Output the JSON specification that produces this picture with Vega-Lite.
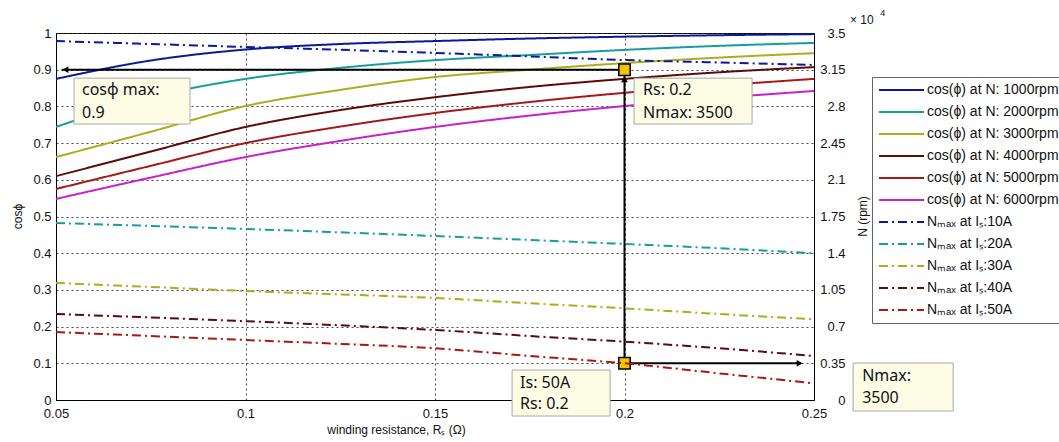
{
  "$schema": "https://vega.github.io/schema/vega-lite/v6.json",
  "width": 758,
  "height": 367,
  "autosize": {"type": "none"},
  "padding": {"left": 56, "top": 33, "right": 245, "bottom": 42},
  "config": {
    "view": {"stroke": "black", "strokeWidth": 1},
    "font": "Liberation Sans",
    "scale": {"continuousPadding": 0},
    "axis": {
      "labelFont": "Liberation Sans",
      "labelFontSize": 13,
      "labelColor": "#111",
      "labelFlush": false,
      "labelOverlap": false,
      "titleFont": "Liberation Sans",
      "titleFontSize": 12,
      "titleFontWeight": "normal",
      "titleColor": "#111",
      "domainColor": "black",
      "gridColor": "#333",
      "gridDash": [2, 3],
      "gridOpacity": 0.9,
      "ticks": false
    },
    "legend": {
      "labelFont": "Liberation Sans",
      "labelFontSize": 14,
      "labelColor": "#111"
    }
  },
  "datasets": {
    "cos": [
      {"R": 0.05, "cos": 0.875, "series": "cos(ϕ) at N: 1000rpm"},
      {"R": 0.075, "cos": 0.925, "series": "cos(ϕ) at N: 1000rpm"},
      {"R": 0.1, "cos": 0.955, "series": "cos(ϕ) at N: 1000rpm"},
      {"R": 0.125, "cos": 0.97, "series": "cos(ϕ) at N: 1000rpm"},
      {"R": 0.15, "cos": 0.978, "series": "cos(ϕ) at N: 1000rpm"},
      {"R": 0.175, "cos": 0.985, "series": "cos(ϕ) at N: 1000rpm"},
      {"R": 0.2, "cos": 0.99, "series": "cos(ϕ) at N: 1000rpm"},
      {"R": 0.225, "cos": 0.994, "series": "cos(ϕ) at N: 1000rpm"},
      {"R": 0.25, "cos": 0.997, "series": "cos(ϕ) at N: 1000rpm"},
      {"R": 0.05, "cos": 0.744, "series": "cos(ϕ) at N: 2000rpm"},
      {"R": 0.075, "cos": 0.825, "series": "cos(ϕ) at N: 2000rpm"},
      {"R": 0.1, "cos": 0.875, "series": "cos(ϕ) at N: 2000rpm"},
      {"R": 0.125, "cos": 0.905, "series": "cos(ϕ) at N: 2000rpm"},
      {"R": 0.15, "cos": 0.926, "series": "cos(ϕ) at N: 2000rpm"},
      {"R": 0.175, "cos": 0.94, "series": "cos(ϕ) at N: 2000rpm"},
      {"R": 0.2, "cos": 0.954, "series": "cos(ϕ) at N: 2000rpm"},
      {"R": 0.225, "cos": 0.965, "series": "cos(ϕ) at N: 2000rpm"},
      {"R": 0.25, "cos": 0.973, "series": "cos(ϕ) at N: 2000rpm"},
      {"R": 0.05, "cos": 0.662, "series": "cos(ϕ) at N: 3000rpm"},
      {"R": 0.075, "cos": 0.731, "series": "cos(ϕ) at N: 3000rpm"},
      {"R": 0.1, "cos": 0.801, "series": "cos(ϕ) at N: 3000rpm"},
      {"R": 0.125, "cos": 0.845, "series": "cos(ϕ) at N: 3000rpm"},
      {"R": 0.15, "cos": 0.88, "series": "cos(ϕ) at N: 3000rpm"},
      {"R": 0.175, "cos": 0.9, "series": "cos(ϕ) at N: 3000rpm"},
      {"R": 0.2, "cos": 0.918, "series": "cos(ϕ) at N: 3000rpm"},
      {"R": 0.225, "cos": 0.933, "series": "cos(ϕ) at N: 3000rpm"},
      {"R": 0.25, "cos": 0.945, "series": "cos(ϕ) at N: 3000rpm"},
      {"R": 0.05, "cos": 0.61, "series": "cos(ϕ) at N: 4000rpm"},
      {"R": 0.075, "cos": 0.677, "series": "cos(ϕ) at N: 4000rpm"},
      {"R": 0.1, "cos": 0.744, "series": "cos(ϕ) at N: 4000rpm"},
      {"R": 0.125, "cos": 0.79, "series": "cos(ϕ) at N: 4000rpm"},
      {"R": 0.15, "cos": 0.825, "series": "cos(ϕ) at N: 4000rpm"},
      {"R": 0.175, "cos": 0.853, "series": "cos(ϕ) at N: 4000rpm"},
      {"R": 0.2, "cos": 0.875, "series": "cos(ϕ) at N: 4000rpm"},
      {"R": 0.225, "cos": 0.893, "series": "cos(ϕ) at N: 4000rpm"},
      {"R": 0.25, "cos": 0.907, "series": "cos(ϕ) at N: 4000rpm"},
      {"R": 0.05, "cos": 0.575, "series": "cos(ϕ) at N: 5000rpm"},
      {"R": 0.075, "cos": 0.638, "series": "cos(ϕ) at N: 5000rpm"},
      {"R": 0.1, "cos": 0.7, "series": "cos(ϕ) at N: 5000rpm"},
      {"R": 0.125, "cos": 0.745, "series": "cos(ϕ) at N: 5000rpm"},
      {"R": 0.15, "cos": 0.782, "series": "cos(ϕ) at N: 5000rpm"},
      {"R": 0.175, "cos": 0.812, "series": "cos(ϕ) at N: 5000rpm"},
      {"R": 0.2, "cos": 0.837, "series": "cos(ϕ) at N: 5000rpm"},
      {"R": 0.225, "cos": 0.857, "series": "cos(ϕ) at N: 5000rpm"},
      {"R": 0.25, "cos": 0.875, "series": "cos(ϕ) at N: 5000rpm"},
      {"R": 0.05, "cos": 0.548, "series": "cos(ϕ) at N: 6000rpm"},
      {"R": 0.075, "cos": 0.606, "series": "cos(ϕ) at N: 6000rpm"},
      {"R": 0.1, "cos": 0.662, "series": "cos(ϕ) at N: 6000rpm"},
      {"R": 0.125, "cos": 0.706, "series": "cos(ϕ) at N: 6000rpm"},
      {"R": 0.15, "cos": 0.744, "series": "cos(ϕ) at N: 6000rpm"},
      {"R": 0.175, "cos": 0.775, "series": "cos(ϕ) at N: 6000rpm"},
      {"R": 0.2, "cos": 0.801, "series": "cos(ϕ) at N: 6000rpm"},
      {"R": 0.225, "cos": 0.823, "series": "cos(ϕ) at N: 6000rpm"},
      {"R": 0.25, "cos": 0.842, "series": "cos(ϕ) at N: 6000rpm"}
    ],
    "nmax": [
      {"R": 0.05, "N": 34230, "series": "Nₘₐₓ at Iₛ:10A"},
      {"R": 0.075, "N": 33950, "series": "Nₘₐₓ at Iₛ:10A"},
      {"R": 0.1, "N": 33670, "series": "Nₘₐₓ at Iₛ:10A"},
      {"R": 0.125, "N": 33400, "series": "Nₘₐₓ at Iₛ:10A"},
      {"R": 0.15, "N": 33100, "series": "Nₘₐₓ at Iₛ:10A"},
      {"R": 0.175, "N": 32770, "series": "Nₘₐₓ at Iₛ:10A"},
      {"R": 0.2, "N": 32420, "series": "Nₘₐₓ at Iₛ:10A"},
      {"R": 0.225, "N": 32190, "series": "Nₘₐₓ at Iₛ:10A"},
      {"R": 0.25, "N": 31950, "series": "Nₘₐₓ at Iₛ:10A"},
      {"R": 0.05, "N": 16880, "series": "Nₘₐₓ at Iₛ:20A"},
      {"R": 0.075, "N": 16600, "series": "Nₘₐₓ at Iₛ:20A"},
      {"R": 0.1, "N": 16310, "series": "Nₘₐₓ at Iₛ:20A"},
      {"R": 0.125, "N": 15990, "series": "Nₘₐₓ at Iₛ:20A"},
      {"R": 0.15, "N": 15640, "series": "Nₘₐₓ at Iₛ:20A"},
      {"R": 0.175, "N": 15260, "series": "Nₘₐₓ at Iₛ:20A"},
      {"R": 0.2, "N": 14880, "series": "Nₘₐₓ at Iₛ:20A"},
      {"R": 0.225, "N": 14470, "series": "Nₘₐₓ at Iₛ:20A"},
      {"R": 0.25, "N": 14000, "series": "Nₘₐₓ at Iₛ:20A"},
      {"R": 0.05, "N": 11160, "series": "Nₘₐₓ at Iₛ:30A"},
      {"R": 0.075, "N": 10780, "series": "Nₘₐₓ at Iₛ:30A"},
      {"R": 0.1, "N": 10400, "series": "Nₘₐₓ at Iₛ:30A"},
      {"R": 0.125, "N": 10070, "series": "Nₘₐₓ at Iₛ:30A"},
      {"R": 0.15, "N": 9730, "series": "Nₘₐₓ at Iₛ:30A"},
      {"R": 0.175, "N": 9220, "series": "Nₘₐₓ at Iₛ:30A"},
      {"R": 0.2, "N": 8740, "series": "Nₘₐₓ at Iₛ:30A"},
      {"R": 0.225, "N": 8200, "series": "Nₘₐₓ at Iₛ:30A"},
      {"R": 0.25, "N": 7700, "series": "Nₘₐₓ at Iₛ:30A"},
      {"R": 0.05, "N": 8200, "series": "Nₘₐₓ at Iₛ:40A"},
      {"R": 0.075, "N": 7870, "series": "Nₘₐₓ at Iₛ:40A"},
      {"R": 0.1, "N": 7520, "series": "Nₘₐₓ at Iₛ:40A"},
      {"R": 0.125, "N": 7120, "series": "Nₘₐₓ at Iₛ:40A"},
      {"R": 0.15, "N": 6680, "series": "Nₘₐₓ at Iₛ:40A"},
      {"R": 0.175, "N": 6100, "series": "Nₘₐₓ at Iₛ:40A"},
      {"R": 0.2, "N": 5560, "series": "Nₘₐₓ at Iₛ:40A"},
      {"R": 0.225, "N": 4930, "series": "Nₘₐₓ at Iₛ:40A"},
      {"R": 0.25, "N": 4200, "series": "Nₘₐₓ at Iₛ:40A"},
      {"R": 0.05, "N": 6480, "series": "Nₘₐₓ at Iₛ:50A"},
      {"R": 0.075, "N": 6100, "series": "Nₘₐₓ at Iₛ:50A"},
      {"R": 0.1, "N": 5720, "series": "Nₘₐₓ at Iₛ:50A"},
      {"R": 0.125, "N": 5350, "series": "Nₘₐₓ at Iₛ:50A"},
      {"R": 0.15, "N": 4930, "series": "Nₘₐₓ at Iₛ:50A"},
      {"R": 0.175, "N": 4200, "series": "Nₘₐₓ at Iₛ:50A"},
      {"R": 0.2, "N": 3500, "series": "Nₘₐₓ at Iₛ:50A"},
      {"R": 0.225, "N": 2540, "series": "Nₘₐₓ at Iₛ:50A"},
      {"R": 0.25, "N": 1590, "series": "Nₘₐₓ at Iₛ:50A"}
    ],
    "segs": [
      {"x": 0.0515, "x2": 0.2, "y": 0.9, "y2": 0.9},
      {"x": 0.2, "x2": 0.2, "y": 0.1, "y2": 0.885},
      {"x": 0.2, "x2": 0.2465, "y": 0.1, "y2": 0.1}
    ],
    "arrows": [
      {"x": 0.0525, "y": 0.9, "shape": "triangle-left"},
      {"x": 0.2, "y": 0.874, "shape": "triangle-up"},
      {"x": 0.2462, "y": 0.1, "shape": "triangle-right"}
    ],
    "markers": [
      {"x": 0.2, "y": 0.9},
      {"x": 0.2, "y": 0.1}
    ],
    "boxes": [
      {"x": 0.05475, "x2": 0.08536, "y": 0.877, "y2": 0.752},
      {"x": 0.20253, "x2": 0.23367, "y": 0.877, "y2": 0.752},
      {"x": 0.17034, "x2": 0.1962, "y": 0.0817, "y2": -0.0436},
      {"x": 0.26033, "x2": 0.28672, "y": 0.1008, "y2": -0.030}
    ],
    "labels": [
      {"x": 0.05686, "y": 0.845, "text": "cosϕ max:"},
      {"x": 0.05686, "y": 0.782, "text": "0.9"},
      {"x": 0.20491, "y": 0.845, "text": "Rs: 0.2"},
      {"x": 0.20491, "y": 0.782, "text": "Nmax: 3500"},
      {"x": 0.17245, "y": 0.0463, "text": "Is: 50A"},
      {"x": 0.17245, "y": -0.0109, "text": "Rs: 0.2"},
      {"x": 0.2627, "y": 0.0654, "text": "Nmax:"},
      {"x": 0.2627, "y": 0.0054, "text": "3500"}
    ]
  },
  "layer": [
    {
      "layer": [
        {
          "data": {"name": "cos"},
          "mark": {"type": "line", "strokeWidth": 2, "interpolate": "monotone"},
          "encoding": {
            "x": {
              "field": "R", "type": "quantitative",
              "scale": {"domain": [0.05, 0.25], "nice": false, "zero": false, "padding": 0},
              "axis": {
                "values": [0.05, 0.1, 0.15, 0.2, 0.25],
                "tickCount": 20,
                "format": "~g",
                "title": "winding resistance, Rₛ (Ω)",
                "labelPadding": 7,
                "labelFlush": false,
                "labelOverlap": false,
                "titlePadding": 4,
                "titleX": 340,
                "grid": true
              }
            },
            "y": {
              "field": "cos", "type": "quantitative",
              "scale": {"domain": [0, 1], "nice": false, "padding": 0},
              "axis": {
                "values": [0, 0.1, 0.2, 0.3, 0.4, 0.5, 0.6, 0.7, 0.8, 0.9, 1],
                "tickCount": 20,
                "format": "~g",
                "title": "cosϕ",
                "labelPadding": 5,
                "labelFlush": false,
                "labelOverlap": false,
                "titleAngle": 270,
                "titleX": -39,
                "titleY": 183,
                "titleAlign": "center",
                "titleBaseline": "middle",
                "grid": true
              }
            },
            "color": {
              "field": "series", "type": "nominal",
              "scale": {
                "domain": ["cos(ϕ) at N: 1000rpm", "cos(ϕ) at N: 2000rpm", "cos(ϕ) at N: 3000rpm", "cos(ϕ) at N: 4000rpm", "cos(ϕ) at N: 5000rpm", "cos(ϕ) at N: 6000rpm", "Nₘₐₓ at Iₛ:10A", "Nₘₐₓ at Iₛ:20A", "Nₘₐₓ at Iₛ:30A", "Nₘₐₓ at Iₛ:40A", "Nₘₐₓ at Iₛ:50A"],
                "range": ["#0c1a9a", "#169e9e", "#adad1c", "#5c0a0a", "#a81818", "#cc1fcc", "#0c1a9a", "#169e9e", "#adad1c", "#5c0a0a", "#a81818"]
              },
              "legend": {
                "title": null,
                "orient": "none",
                "legendX": 816,
                "legendY": 44,
                "padding": 6,
                "strokeColor": "#666",
                "fillColor": "white",
                "symbolType": "M-1,0H6.5",
                "symbolSize": 144,
                "symbolStrokeWidth": 2,
                "labelOffset": 35,
                "rowPadding": 8
              }
            },
            "strokeDash": {
              "field": "series", "type": "nominal",
              "scale": {
                "domain": ["cos(ϕ) at N: 1000rpm", "cos(ϕ) at N: 2000rpm", "cos(ϕ) at N: 3000rpm", "cos(ϕ) at N: 4000rpm", "cos(ϕ) at N: 5000rpm", "cos(ϕ) at N: 6000rpm", "Nₘₐₓ at Iₛ:10A", "Nₘₐₓ at Iₛ:20A", "Nₘₐₓ at Iₛ:30A", "Nₘₐₓ at Iₛ:40A", "Nₘₐₓ at Iₛ:50A"],
                "range": [[1, 0], [1, 0], [1, 0], [1, 0], [1, 0], [1, 0], [9, 4, 2, 4], [9, 4, 2, 4], [9, 4, 2, 4], [9, 4, 2, 4], [9, 4, 2, 4]]
              },
              "legend": {
                "title": null,
                "orient": "none",
                "legendX": 816,
                "legendY": 44,
                "padding": 6,
                "strokeColor": "#666",
                "fillColor": "white",
                "symbolType": "M-1,0H6.5",
                "symbolSize": 144,
                "symbolStrokeWidth": 2,
                "labelOffset": 35,
                "rowPadding": 8
              }
            }
          }
        },
        {
          "data": {"name": "segs"},
          "mark": {"type": "rule", "color": "black", "strokeWidth": 2},
          "encoding": {
            "x": {"field": "x", "type": "quantitative"},
            "x2": {"field": "x2"},
            "y": {"field": "y", "type": "quantitative"},
            "y2": {"field": "y2"}
          }
        },
        {
          "data": {"name": "arrows"},
          "mark": {"type": "point", "filled": true, "color": "black", "size": 45, "opacity": 1},
          "encoding": {
            "x": {"field": "x", "type": "quantitative"},
            "y": {"field": "y", "type": "quantitative"},
            "shape": {"field": "shape", "type": "nominal", "scale": null, "legend": null}
          }
        },
        {
          "data": {"name": "markers"},
          "mark": {"type": "square", "size": 130, "fill": "#f7c300", "stroke": "black", "strokeWidth": 1.5, "opacity": 1},
          "encoding": {
            "x": {"field": "x", "type": "quantitative"},
            "y": {"field": "y", "type": "quantitative"}
          }
        },
        {
          "data": {"name": "boxes"},
          "mark": {"type": "rect", "fill": "#fdfde6", "stroke": "#a8a8a8", "strokeWidth": 1},
          "encoding": {
            "x": {"field": "x", "type": "quantitative"},
            "x2": {"field": "x2"},
            "y": {"field": "y", "type": "quantitative"},
            "y2": {"field": "y2"}
          }
        },
        {
          "data": {"name": "labels"},
          "mark": {"type": "text", "align": "left", "baseline": "middle", "font": "Noto Sans", "fontSize": 16, "color": "#111"},
          "encoding": {
            "x": {"field": "x", "type": "quantitative"},
            "y": {"field": "y", "type": "quantitative"},
            "text": {"field": "text", "type": "nominal"}
          }
        },
        {
          "data": {"values": [{"x": 0.2595, "y": 1.035, "text": "× 10"}]},
          "mark": {"type": "text", "align": "left", "baseline": "middle", "font": "Liberation Sans", "fontSize": 12, "color": "#111"},
          "encoding": {
            "x": {"field": "x", "type": "quantitative"},
            "y": {"field": "y", "type": "quantitative"},
            "text": {"field": "text", "type": "nominal"}
          }
        },
        {
          "data": {"values": [{"x": 0.2675, "y": 1.055, "text": "4"}]},
          "mark": {"type": "text", "align": "left", "baseline": "middle", "font": "Liberation Sans", "fontSize": 9, "color": "#111"},
          "encoding": {
            "x": {"field": "x", "type": "quantitative"},
            "y": {"field": "y", "type": "quantitative"},
            "text": {"field": "text", "type": "nominal"}
          }
        }
      ]
    },
    {
      "data": {"name": "nmax"},
      "mark": {"type": "line", "strokeWidth": 2, "interpolate": "monotone"},
      "encoding": {
        "x": {"field": "R", "type": "quantitative"},
        "y": {
          "field": "N", "type": "quantitative",
          "scale": {"domain": [0, 35000], "nice": false, "padding": 0},
          "axis": {
            "orient": "right",
            "values": [0, 3500, 7000, 10500, 14000, 17500, 21000, 24500, 28000, 31500, 35000],
            "tickCount": 20,
            "labelExpr": "format(datum.value/10000, '.3~f')",
            "labelAlign": "right",
            "labelPadding": 31,
            "labelFlush": false,
            "labelOverlap": false,
            "title": "N (rpm)",
            "titleAngle": 270,
            "titleX": 48,
            "titleY": 183,
            "titleAlign": "center",
            "titleBaseline": "middle",
            "grid": false
          }
        },
        "color": {"field": "series", "type": "nominal"},
        "strokeDash": {"field": "series", "type": "nominal"}
      }
    }
  ],
  "resolve": {"scale": {"y": "independent"}, "axis": {"y": "independent"}}
}
